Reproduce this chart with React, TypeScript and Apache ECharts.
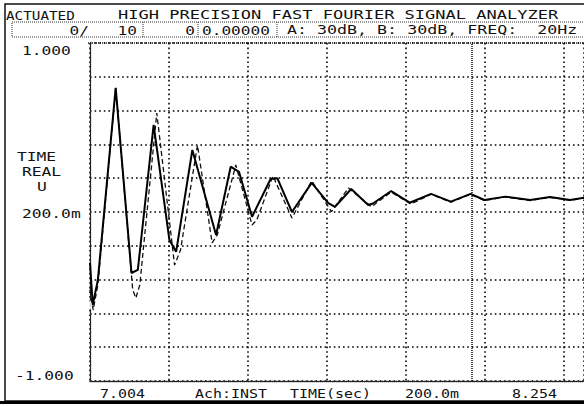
import { useEffect, useRef } from 'react';
import * as echarts from 'echarts';

// ---- data ----
const solidT = [7.004, 7.011, 7.024, 7.069, 7.109, 7.125, 7.165, 7.205, 7.222, 7.263, 7.323, 7.360, 7.381, 7.414, 7.461, 7.478, 7.515, 7.565, 7.607, 7.624, 7.665, 7.708, 7.720, 7.766, 7.813, 7.867, 7.917, 7.967, 8.002, 8.055, 8.118, 8.168, 8.219, 8.254];
const solidV = [-0.30, -0.55, -0.40, 0.734, -0.361, -0.343, 0.515, -0.166, -0.235, 0.367, -0.136, 0.268, 0.238, -0.028, 0.195, 0.200, 0.0, 0.172, 0.053, 0.031, 0.136, 0.041, 0.050, 0.124, 0.055, 0.107, 0.061, 0.107, 0.071, 0.091, 0.071, 0.089, 0.071, 0.085];
const dashT = [7.004, 7.012, 7.024, 7.069, 7.112, 7.120, 7.130, 7.173, 7.218, 7.233, 7.276, 7.313, 7.326, 7.373, 7.414, 7.426, 7.467, 7.515, 7.565, 7.615, 7.658, 7.716, 7.766, 7.816, 7.867, 7.917, 7.967, 8.002, 8.055, 8.118, 8.168, 8.219, 8.254];
const dashV = [-0.46, -0.58, -0.43, 0.734, -0.46, -0.509, -0.432, 0.586, -0.314, -0.225, 0.396, -0.183, -0.136, 0.278, -0.077, -0.047, 0.213, -0.036, 0.185, 0.002, 0.142, 0.031, 0.118, 0.047, 0.105, 0.058, 0.105, 0.068, 0.089, 0.068, 0.087, 0.069, 0.083];
const markerT = [7.069, 7.011];
const markerV = [0.734, -0.55];
const cursorT = 7.970;
const xMin = 7.004;
const xMax = 8.254;
const xStep = 0.2;
const yMin = -1;
const yMax = 1;
const yStep = 0.2;

const headerLeft = 'ACTUATED';
const headerTitle = 'HIGH PRECISION FAST FOURIER SIGNAL ANALYZER';
const statusWords = ['0/', '10', '0', '0.00000'];
const statusRight = 'A: 30dB, B: 30dB, FREQ:  20Hz';
const yTickLabels = ['1.000', '200.0m', '-1.000'];
const yTitle = ['TIME', 'REAL', 'U'];
const bottomWords = ['7.004', 'Ach:INST', 'TIME(sec)', '200.0m', '8.254'];

const FONT = '13px "DejaVu Sans Mono", "Liberation Mono", monospace';
const INK = '#111';

function txt(text: string, x: number, y: number, align: string = 'left', sx: number = 1.25) {
  return {
    type: 'text',
    x,
    y,
    scaleX: sx,
    silent: true,
    style: { text, fill: INK, font: FONT, lineHeight: 13, textAlign: align, textVerticalAlign: 'middle' },
  };
}

const statusPos: [number, string][] = [[89, 'right'], [137, 'right'], [195, 'right'], [202, 'left']];
const yTickPos: [number, number][] = [[22, 50], [22, 213], [15, 375]];
const yTitlePos: [number, number][] = [[17, 156], [22, 171], [37, 186]];
const bottomX = [100, 195, 290, 405, 512];

export default function App() {
  const ref = useRef<HTMLDivElement>(null);
  useEffect(() => {
    document.body.style.margin = '0';
    const chart = echarts.init(ref.current!, null, { renderer: 'svg' });
    const dotted = { color: '#000', width: 1.6, type: [1.6, 3] as number[] };
    const dense = { color: '#222', width: 1.3, type: [1, 1] as number[] };
    const graphics: any[] = [];
    // outer frame
    graphics.push({ type: 'rect', silent: true, shape: { x: 5, y: 4, width: 620, height: 397 }, style: { fill: 'none', stroke: '#111', lineWidth: 1.5 } });
    graphics.push({ type: 'line', silent: true, shape: { x1: 0, y1: 402.5, x2: 584, y2: 402.5 }, style: { stroke: '#000', lineWidth: 3 } });
    // status box
    graphics.push({ type: 'rect', silent: true, shape: { x: 12, y: 22, width: 620, height: 15 }, style: { fill: 'none', stroke: '#333', lineWidth: 1, lineDash: [1, 1] } });
    [143, 198, 277].forEach((sx) => graphics.push({ type: 'line', silent: true, shape: { x1: sx, y1: 22, x2: sx, y2: 37 }, style: { stroke: '#333', lineWidth: 1, lineDash: [1, 1] } }));
    // plot top border
    graphics.push({ type: 'line', silent: true, shape: { x1: 88, y1: 43, x2: 584, y2: 43 }, style: { stroke: '#222', lineWidth: 1.3, lineDash: [1, 1] } });
    graphics.push(txt(headerLeft, 6, 15, 'left', 1.1));
    graphics.push(txt(headerTitle, 118, 15, 'left', 1.31));
    statusWords.forEach((w, i) => graphics.push(txt(w, statusPos[i][0], 30, statusPos[i][1], 1.24)));
    graphics.push(txt(statusRight, 287, 30, 'left', 1.28));
    yTickLabels.forEach((w, i) => graphics.push(txt(w, yTickPos[i][0], yTickPos[i][1])));
    yTitle.forEach((w, i) => graphics.push(txt(w, yTitlePos[i][0], yTitlePos[i][1])));
    bottomWords.forEach((w, i) => graphics.push(txt(w, bottomX[i], 393, 'left', 1.15)));

    chart.setOption({
      animation: false,
      backgroundColor: '#fff',
      grid: { left: 90, top: 43, width: 497, height: 338, containLabel: false },
      xAxis: {
        type: 'value', min: xMin, max: xMax, interval: xStep,
        axisLabel: { show: false }, axisTick: { show: false },
        axisLine: { show: true, onZero: false, lineStyle: dense },
        splitLine: { show: true, lineStyle: dotted },
      },
      yAxis: {
        type: 'value', min: yMin, max: yMax, interval: yStep,
        axisLabel: { show: false }, axisTick: { show: false },
        axisLine: { show: true, onZero: false, lineStyle: dense },
        splitLine: { show: true, lineStyle: dotted },
      },
      series: [
        {
          type: 'line', name: 'B', data: dashT.map((t, i) => [t, dashV[i]]),
          symbol: 'none', lineStyle: { color: '#111', width: 1.3, type: [5, 3] },
        },
        {
          type: 'line', name: 'A', data: solidT.map((t, i) => [t, solidV[i]]),
          symbol: 'none', lineStyle: { color: '#000', width: 2 },
          markLine: {
            silent: true, symbol: 'none', label: { show: false },
            lineStyle: { color: '#111', width: 1.5, type: [1, 1] },
            data: [{ xAxis: cursorT }],
          },
        },
        {
          type: 'scatter', name: 'markers', data: markerT.map((t, i) => [t, markerV[i]]),
          symbol: 'emptyCircle', symbolSize: 8,
          itemStyle: { color: '#fff', borderColor: '#111', borderWidth: 1.3 },
        },
      ],
      graphic: graphics,
    });
    return () => chart.dispose();
  }, []);
  return <div ref={ref} style={{ width: 584, height: 406 }} />;
}
